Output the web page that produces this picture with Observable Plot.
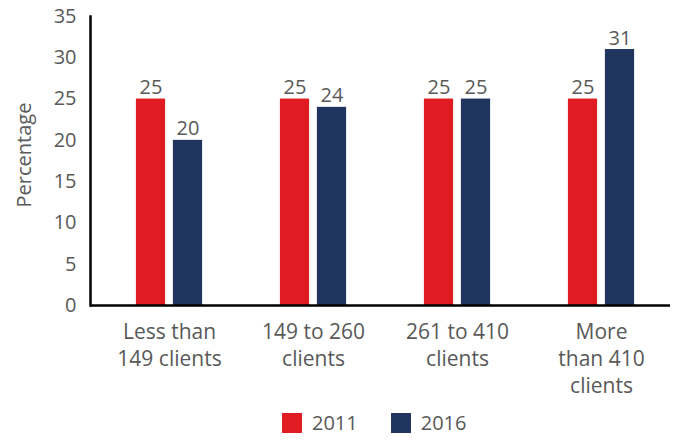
<!DOCTYPE html>
<html>
<head>
<meta charset="utf-8">
<script src="https://cdn.jsdelivr.net/npm/d3@7"></script>
<script src="https://cdn.jsdelivr.net/npm/@observablehq/plot@0.6"></script>
<style>
  body { margin: 0; background: #fff; font-family: "Open Sans", sans-serif; }
  #chart { width: 675px; }
  .legend { display: flex; align-items: center; height: 35px; padding-left: 282px; color: #595959; font-size: 20px; font-family: "Open Sans", sans-serif; }
  .legend .sw { width: 20px; height: 20px; display: inline-block; margin-right: 10px; }
  .legend .item { display: flex; align-items: center; margin-right: 33px; }
</style>
</head>
<body>
<div id="chart"></div>
<script>
const categories = ["Less than\n149 clients", "149 to 260\nclients", "261 to 410\nclients", "More\nthan 410\nclients"];
const years = ["2011", "2016"];
const values2011 = [25, 25, 25, 25];
const values2016 = [20, 24, 25, 31];
const yTicks = [0, 5, 10, 15, 20, 25, 30, 35];
const colors = ["#e11b22", "#1f355e"];
const yLabel = "Percentage";

const d2011 = categories.map((c, i) => ({category: c, year: years[0], value: values2011[i]}));
const d2016 = categories.map((c, i) => ({category: c, year: years[1], value: values2016[i]}));

const gray = "#595959";
const font = "Open Sans";

const plot = Plot.plot({
  width: 675,
  height: 405,
  marginLeft: 90,
  marginRight: 1,
  marginTop: 16,
  marginBottom: 100,
  style: {fontFamily: font, color: gray, background: "#fff"},
  x: {domain: categories, padding: 0, insetLeft: 5, axis: null},
  y: {domain: [0, 35], axis: null},
  marks: [
    Plot.barY(d2011, {x: "category", y: "value", fill: colors[0], insetLeft: 57.4, insetRight: 57.4, dx: -18.5}),
    Plot.barY(d2016, {x: "category", y: "value", fill: colors[1], insetLeft: 57.4, insetRight: 57.4, dx: 18.5}),
    Plot.text(d2011, {x: "category", y: "value", text: d => String(d.value), dx: -18.5, dy: -5, lineAnchor: "bottom", fontSize: 20, fill: gray}),
    Plot.text(d2016, {x: "category", y: "value", text: d => String(d.value), dx: 18.5, dy: -5, lineAnchor: "bottom", fontSize: 20, fill: gray}),
    Plot.axisY({ticks: yTicks, tickSize: 0, tickPadding: 14, fontSize: 20, label: null, fill: gray}),
    Plot.text(categories, {x: d => d, y: () => 0, text: d => d, lineAnchor: "top", dy: 14, lineHeight: 1.29, fontSize: 21, fill: gray}),
    Plot.text([yLabel], {frameAnchor: "left", text: d => d, rotate: -90, textAnchor: "middle", dx: -66, dy: -6, fontSize: 20, fill: gray}),
    Plot.frame({anchor: "left", stroke: "#000", strokeWidth: 2.5}),
    Plot.ruleY([0], {stroke: "#000", strokeWidth: 2.5, insetRight: 4})
  ]
});
document.getElementById("chart").appendChild(plot);

const legend = document.createElement("div");
legend.className = "legend";
years.forEach((y, i) => {
  const item = document.createElement("span");
  item.className = "item";
  const sw = document.createElement("span");
  sw.className = "sw";
  sw.style.background = colors[i];
  item.appendChild(sw);
  item.appendChild(document.createTextNode(y));
  legend.appendChild(item);
});
document.getElementById("chart").appendChild(legend);
</script>
</body>
</html>
